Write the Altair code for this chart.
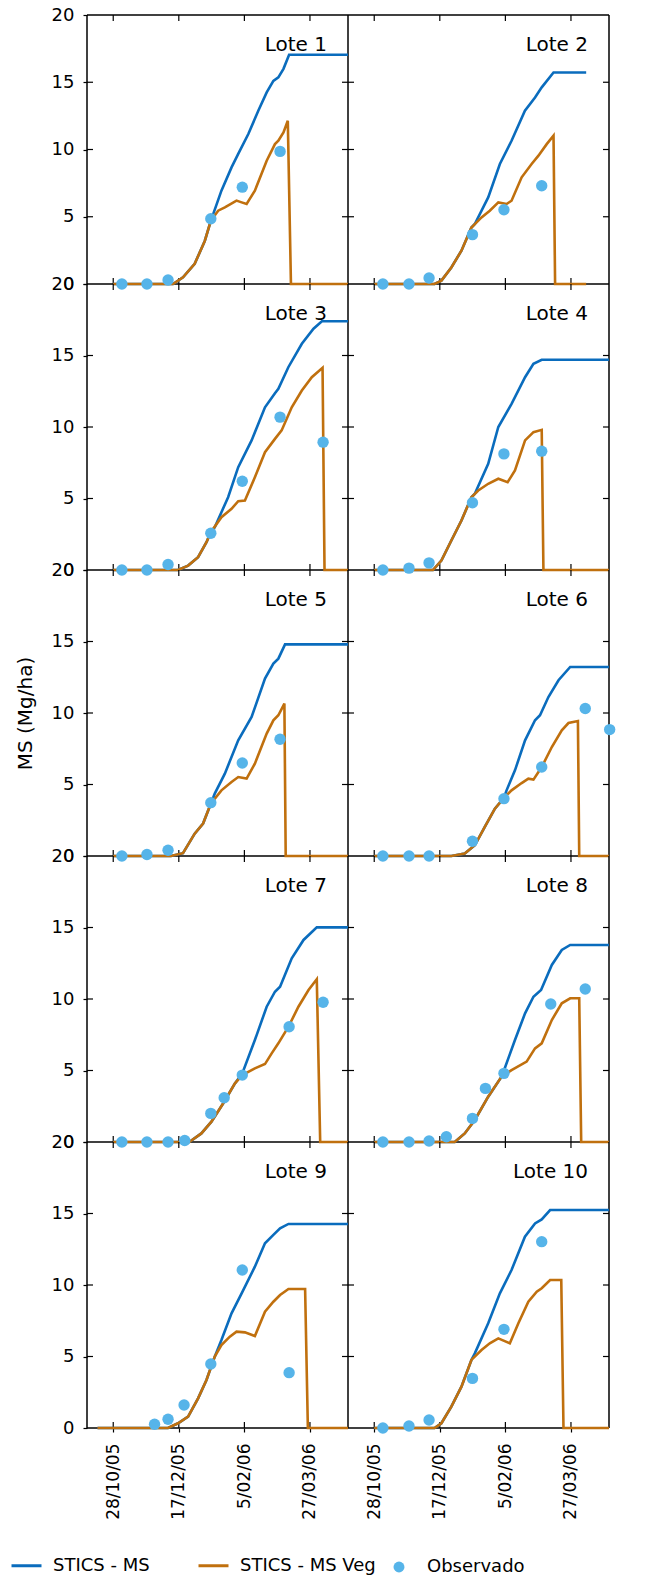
import altair as alt
import pandas as pd

# ---------------- data (days after 2005-10-08, MS in Mg/ha) ----------------
START = "2005-10-08"
XTICK_DATES = ["2005-10-28", "2005-12-17", "2006-02-05", "2006-03-27"]
YTICKS = [0, 5, 10, 15, 20]
YTICKS_INNER = [5, 10, 15]
SERIES = ["STICS - MS", "STICS - MS Veg"]
OBS_LABEL = "Observado"

l1_obs_d = [26.6, 45.7, 61.8, 94.4, 118.4, 147.2]
l1_obs_v = [0, 0, 0.3, 4.85, 7.2, 9.86]
l1_veg_d = [20, 65.6, 73.2, 82.1, 89.8, 94.4, 100, 105.1, 114, 117.9, 121.7, 128, 137, 143.3, 145.9, 149.8, 153.1, 155.5, 199]
l1_veg_v = [0, 0, 0.5, 1.5, 3.2, 4.7, 5.45, 5.7, 6.2, 6.07, 5.95, 6.94, 9.17, 10.4, 10.65, 11.27, 12.14, 0, 0]
l1_ms_d = [20, 65.6, 73.2, 82.1, 89.8, 94.4, 102.5, 110.2, 115.3, 123, 130.6, 137, 142.1, 145.9, 149.8, 154.1, 199]
l1_ms_v = [0, 0, 0.5, 1.5, 3.2, 4.7, 6.94, 8.67, 9.67, 11.15, 12.88, 14.25, 15.1, 15.36, 16.0, 17.05, 17.05]

l2_obs_d = [26.6, 46.5, 61.8, 94.9, 118.9, 147.7]
l2_obs_v = [0, 0, 0.45, 3.67, 5.52, 7.31]
l2_veg_d = [20, 66, 71.2, 78.8, 86.5, 94.1, 101.8, 108.1, 114.6, 120.9, 124.7, 132.4, 140, 145.2, 151.5, 156.7, 157.9, 181.6]
l2_veg_v = [0, 0, 0.25, 1.23, 2.48, 4.2, 4.95, 5.45, 6.07, 5.95, 6.19, 7.93, 8.92, 9.54, 10.4, 11.03, 0, 0]
l2_ms_d = [20, 66, 71.2, 78.8, 86.5, 94.1, 96.7, 106.9, 115.8, 124.7, 134.9, 142.6, 147.7, 156.7, 181.6]
l2_ms_v = [0, 0, 0.25, 1.23, 2.48, 4.2, 4.46, 6.44, 8.92, 10.65, 12.88, 13.87, 14.62, 15.73, 15.73]

l3_obs_d = [26.6, 45.7, 61.8, 94.4, 118.4, 147.2, 180]
l3_obs_v = [0, 0, 0.38, 2.57, 6.21, 10.69, 8.94]
l3_veg_d = [20, 69.4, 77.1, 84.7, 91.1, 94.4, 102.5, 110.2, 115.3, 120.4, 128, 135.7, 143.3, 148.4, 156.1, 163.8, 171.4, 179.6, 181.1, 199]
l3_veg_v = [0, 0, 0.31, 0.9, 1.94, 2.64, 3.69, 4.28, 4.81, 4.86, 6.49, 8.24, 9.17, 9.76, 11.38, 12.55, 13.48, 14.14, 0, 0]
l3_ms_d = [20, 69.4, 77.1, 84.7, 91.1, 94.4, 97.4, 107.6, 115.3, 125.5, 135.7, 143.3, 145.9, 153.5, 163.8, 172.7, 179.1, 199]
l3_ms_v = [0, 0, 0.31, 0.9, 1.94, 2.64, 2.99, 5.09, 7.19, 9.06, 11.38, 12.36, 12.67, 14.18, 15.82, 16.87, 17.4, 17.4]

l4_obs_d = [26.6, 46.5, 61.8, 94.9, 118.9, 147.7]
l4_obs_v = [0, 0.13, 0.5, 4.7, 8.12, 8.31]
l4_veg_d = [20, 64.8, 71.2, 78.8, 86.5, 94.1, 99.3, 106.9, 114.6, 121.7, 127.3, 135, 141.4, 147.7, 149, 199]
l4_veg_v = [0, 0, 0.66, 2.06, 3.46, 5.09, 5.56, 6.03, 6.38, 6.14, 6.96, 9.06, 9.64, 9.8, 0, 0]
l4_ms_d = [20, 64.8, 71.2, 78.8, 86.5, 94.1, 96.7, 106.9, 114.6, 124.7, 135, 141.4, 147.7, 199]
l4_ms_v = [0, 0, 0.66, 2.06, 3.46, 5.09, 5.33, 7.43, 10.0, 11.62, 13.48, 14.42, 14.7, 14.7]

l5_obs_d = [26.6, 45.7, 61.8, 94.4, 118.4, 147.2]
l5_obs_v = [0, 0.1, 0.4, 3.73, 6.5, 8.16]
l5_veg_d = [20, 64, 73.2, 82.1, 88.5, 94.4, 102.5, 110.2, 115.3, 121.7, 128, 137, 142.1, 145.9, 150.5, 151.5, 199]
l5_veg_v = [0, 0, 0.2, 1.56, 2.27, 3.66, 4.59, 5.17, 5.52, 5.41, 6.46, 8.56, 9.49, 9.84, 10.66, 0, 0]
l5_ms_d = [20, 64, 73.2, 82.1, 88.5, 94.4, 97.4, 105.1, 115.3, 125.5, 135.7, 142.1, 145.9, 151, 199]
l5_ms_v = [0, 0, 0.2, 1.56, 2.27, 3.66, 4.36, 5.76, 8.09, 9.72, 12.41, 13.45, 13.8, 14.8, 14.8]

l6_obs_d = [26.6, 46.5, 61.8, 94.9, 118.9, 147.7, 180.9, 199.5]
l6_obs_v = [0, 0, 0, 1.03, 4.01, 6.22, 10.31, 8.84]
l6_veg_d = [20, 78.8, 89, 96.7, 104.3, 112, 118.9, 124.7, 132.4, 137.5, 141.4, 147.7, 155.4, 163, 168.1, 175.3, 176.3, 199]
l6_veg_v = [0, 0, 0.17, 0.75, 2.03, 3.31, 4.07, 4.59, 5.1, 5.41, 5.34, 6.22, 7.62, 8.79, 9.3, 9.44, 0, 0]
l6_ms_d = [20, 78.8, 89, 96.7, 104.3, 112, 118.9, 120.9, 127.3, 135, 142.6, 146.4, 152.8, 160.5, 169.4, 199]
l6_ms_v = [0, 0, 0.17, 0.75, 2.03, 3.31, 4.07, 4.59, 5.99, 8.09, 9.49, 9.84, 11.12, 12.29, 13.22, 13.22]

l7_obs_d = [26.6, 45.7, 61.8, 74.5, 94.4, 104.6, 118.4, 154.1, 180]
l7_obs_v = [0, 0, 0, 0.1, 2.0, 3.09, 4.68, 8.06, 9.77]
l7_veg_d = [20, 78, 87.2, 94.9, 103.9, 112.8, 118.4, 128, 135.7, 140.8, 145.9, 153.6, 161.2, 168.9, 175.2, 177.8, 199]
l7_veg_v = [0, 0, 0.6, 1.42, 2.71, 4.1, 4.68, 5.15, 5.45, 6.2, 6.9, 8.06, 9.46, 10.63, 11.38, 0, 0]
l7_ms_d = [20, 78, 87.2, 94.9, 103.9, 112.8, 118.4, 128, 137, 143.3, 147.2, 156.1, 165.1, 175.2, 199]
l7_ms_v = [0, 0, 0.6, 1.42, 2.71, 4.1, 4.8, 7.13, 9.46, 10.51, 10.86, 12.85, 14.13, 15.01, 15.01]

l8_obs_d = [26.6, 46.5, 61.8, 75, 94.9, 104.8, 118.9, 154.6, 180.9]
l8_obs_v = [0, 0, 0.07, 0.37, 1.65, 3.75, 4.8, 9.65, 10.7]
l8_veg_d = [20, 81.4, 89, 96.7, 106.9, 117.1, 124.7, 136.2, 142.6, 147.7, 155.4, 163, 169.4, 176.3, 177.8, 199]
l8_veg_v = [0, 0, 0.6, 1.54, 3.17, 4.57, 5.03, 5.62, 6.55, 6.9, 8.53, 9.7, 10.05, 10.05, 0, 0]
l8_ms_d = [20, 81.4, 89, 96.7, 106.9, 117.1, 118.9, 127.3, 135, 141.4, 147.2, 155.4, 163, 169.4, 199]
l8_ms_v = [0, 0, 0.6, 1.54, 3.17, 4.57, 5.0, 7.13, 9.0, 10.16, 10.63, 12.38, 13.43, 13.78, 13.78]

l9_obs_d = [51.5, 61.8, 74, 94.4, 118.4, 154.1]
l9_obs_v = [0.26, 0.61, 1.61, 4.48, 11.05, 3.87]
l9_veg_d = [8, 61.8, 69.4, 77.1, 84.7, 91.1, 97.4, 102.5, 108.9, 114, 120.4, 128, 135.7, 142.1, 147.2, 153.6, 166.3, 168.4, 199]
l9_veg_v = [0, 0, 0.33, 0.79, 2.07, 3.36, 4.99, 5.8, 6.39, 6.74, 6.69, 6.43, 8.13, 8.83, 9.3, 9.72, 9.72, 0, 0]
l9_ms_d = [8, 61.8, 69.4, 77.1, 84.7, 91.1, 97.4, 102.5, 110.2, 117.9, 128, 135.7, 142.1, 147.2, 153.6, 199]
l9_ms_v = [0, 0, 0.33, 0.79, 2.07, 3.36, 4.99, 6.15, 8.02, 9.42, 11.28, 12.92, 13.5, 13.97, 14.27, 14.27]

l10_obs_d = [26.6, 46.5, 61.8, 94.9, 118.9, 147.7]
l10_obs_v = [0, 0.14, 0.56, 3.47, 6.9, 13.03]
l10_veg_d = [20, 66, 71.2, 78.8, 86.5, 94.1, 101.8, 108.1, 114.6, 123.4, 129.9, 137.5, 143.9, 147.7, 154.1, 162.6, 164.3, 199]
l10_veg_v = [0, 0, 0.33, 1.49, 2.89, 4.76, 5.45, 5.92, 6.27, 5.92, 7.32, 8.83, 9.53, 9.77, 10.35, 10.35, 0, 0]
l10_ms_d = [20, 66, 71.2, 78.8, 86.5, 94.1, 96.7, 106.9, 115.8, 124.7, 134.9, 142.6, 147.7, 154.1, 199]
l10_ms_v = [0, 0, 0.33, 1.49, 2.89, 4.76, 5.22, 7.32, 9.42, 11.05, 13.38, 14.31, 14.59, 15.24, 15.24]

LOTES = [
    (1, l1_obs_d, l1_obs_v, l1_veg_d, l1_veg_v, l1_ms_d, l1_ms_v),
    (2, l2_obs_d, l2_obs_v, l2_veg_d, l2_veg_v, l2_ms_d, l2_ms_v),
    (3, l3_obs_d, l3_obs_v, l3_veg_d, l3_veg_v, l3_ms_d, l3_ms_v),
    (4, l4_obs_d, l4_obs_v, l4_veg_d, l4_veg_v, l4_ms_d, l4_ms_v),
    (5, l5_obs_d, l5_obs_v, l5_veg_d, l5_veg_v, l5_ms_d, l5_ms_v),
    (6, l6_obs_d, l6_obs_v, l6_veg_d, l6_veg_v, l6_ms_d, l6_ms_v),
    (7, l7_obs_d, l7_obs_v, l7_veg_d, l7_veg_v, l7_ms_d, l7_ms_v),
    (8, l8_obs_d, l8_obs_v, l8_veg_d, l8_veg_v, l8_ms_d, l8_ms_v),
    (9, l9_obs_d, l9_obs_v, l9_veg_d, l9_veg_v, l9_ms_d, l9_ms_v),
    (10, l10_obs_d, l10_obs_v, l10_veg_d, l10_veg_v, l10_ms_d, l10_ms_v),
]

# ---------------- style ----------------
BLUE = "#0a6cbd"
BROWN = "#c0700e"
DOT = "#56b4e9"
FONT = "DejaVu Sans"
W = 261
H_FIRST = 269
H = 286

start = pd.Timestamp(START)


def to_dates(days):
    return [start + pd.Timedelta(days=float(d)) for d in days]


xscale = alt.Scale(domain=[alt.DateTime(year=2005, month=10, date=8),
                           alt.DateTime(year=2006, month=4, date=25)])
yscale = alt.Scale(domain=[0, 20], nice=False, zero=True)
xtick_dt = [alt.DateTime(year=int(s[:4]), month=int(s[5:7]), date=int(s[8:])) for s in XTICK_DATES]

color_scale = alt.Scale(domain=SERIES, range=[BLUE, BROWN])
fill_scale = alt.Scale(domain=[OBS_LABEL], range=[DOT])

color_legend = alt.Legend(title=None, orient="none", legendX=-77, legendY=1534,
                          direction="horizontal", symbolType="stroke", symbolStrokeWidth=3,
                          symbolSize=900, labelFontSize=18, labelFont=FONT, labelColor="black",
                          labelOffset=10, columnPadding=42, padding=0)
fill_legend = alt.Legend(title=None, orient="none", legendX=303, legendY=1543,
                         symbolType="circle", symbolSize=120, labelFontSize=18, labelFont=FONT,
                         labelColor="black", labelOffset=19, padding=0, symbolStrokeWidth=0)


def panel(n, row, col, obs_d, obs_v, veg_d, veg_v, ms_d, ms_v):
    h = H_FIRST if row == 0 else H
    show_x = row == 4
    show_y = col == 0
    if show_x:
        x_axis = alt.Axis(values=xtick_dt, format="%-d/%m/%y", labelAngle=-90, tickSize=4,
                          labelPadding=11, domain=False, grid=False, title=None,
                          labelFontSize=17, labelFont=FONT, labelFlush=False,
                          labelColor="black", tickColor="black", tickWidth=1.2)
    else:
        x_axis = None
    if show_y:
        y_axis = alt.Axis(values=YTICKS, tickSize=4, labelPadding=9, domain=False, grid=False,
                          title="MS (Mg/ha)" if row == 2 else None, titlePadding=16,
                          labelFontSize=18, labelFont=FONT, titleFont=FONT, titleFontSize=20,
                          titleFontWeight="normal", labelColor="black", titleColor="black",
                          tickColor="black", tickWidth=1.2, labelOverlap=False)
    else:
        y_axis = None

    X = lambda f: alt.X(f, scale=xscale, axis=x_axis)
    Y = lambda f: alt.Y(f, scale=yscale, axis=y_axis)

    ms_df = pd.DataFrame({"date": to_dates(ms_d), "value": ms_v, "series": SERIES[0]})
    veg_df = pd.DataFrame({"date": to_dates(veg_d), "value": veg_v, "series": SERIES[1]})
    obs_df = pd.DataFrame({"date": to_dates(obs_d), "value": obs_v, "kind": OBS_LABEL})
    yt_df = pd.DataFrame({"v": YTICKS_INNER})
    xt_df = pd.DataFrame({"d": [pd.Timestamp(s) for s in XTICK_DATES]})
    lab_df = pd.DataFrame({"label": [f"Lote {n}"]})

    # panel frame edges, drawn under the curves; each panel draws its bottom and
    # right edge (plus top / left on the outer border) so no neighbour covers a curve
    edge = dict(color="black", strokeWidth=1.5)
    layers = [
        alt.Chart(lab_df).mark_rule(**edge).encode(x=alt.value(0), x2=alt.value(W), y=alt.value(h)),
        alt.Chart(lab_df).mark_rule(**edge).encode(x=alt.value(W), y=alt.value(0), y2=alt.value(h)),
    ]
    if row == 0:
        layers.append(alt.Chart(lab_df).mark_rule(**edge).encode(
            x=alt.value(0), x2=alt.value(W), y=alt.value(0)))
    if col == 0:
        layers.append(alt.Chart(lab_df).mark_rule(**edge).encode(
            x=alt.value(0), y=alt.value(0), y2=alt.value(h)))

    color = alt.Color("series:N", scale=color_scale, legend=color_legend)
    ms = alt.Chart(ms_df).mark_line(strokeWidth=2.6).encode(x=X("date:T"), y=Y("value:Q"), color=color)
    veg = alt.Chart(veg_df).mark_line(strokeWidth=2.6).encode(x=X("date:T"), y=Y("value:Q"), color=color)
    pts = alt.Chart(obs_df).mark_circle(size=130, opacity=1).encode(
        x=X("date:T"), y=Y("value:Q"),
        fill=alt.Fill("kind:N", scale=fill_scale, legend=fill_legend))

    rule = dict(color="black", strokeWidth=1.2)
    yl = alt.Chart(yt_df).mark_rule(**rule).encode(y=Y("v:Q"), x=alt.value(0), x2=alt.value(6))
    yr = alt.Chart(yt_df).mark_rule(**rule).encode(y=Y("v:Q"), x=alt.value(W - 6), x2=alt.value(W))
    xb = alt.Chart(xt_df).mark_rule(**rule).encode(x=X("d:T"), y=alt.value(h - 6), y2=alt.value(h))
    xtp = alt.Chart(xt_df).mark_rule(**rule).encode(x=X("d:T"), y=alt.value(0), y2=alt.value(6))
    lab = alt.Chart(lab_df).mark_text(align="right", baseline="alphabetic", fontSize=20,
                                      font=FONT, color="black").encode(
        x=alt.value(W - 21), y=alt.value(36), text="label:N")

    layers += [yl, yr, xb, xtp, ms, veg, pts, lab]
    return alt.layer(*layers).properties(width=W, height=h)


panels = []
for i, lote in enumerate(LOTES):
    panels.append(panel(lote[0], i // 2, i % 2, *lote[1:]))

chart = alt.concat(*panels, columns=2, spacing=0, bounds="flush", align="each").properties(
    padding={"left": 10, "top": 5, "right": 10, "bottom": 2}
).configure(
    font=FONT, view=alt.ViewConfig(stroke="transparent")
)

chart.save("out.html", embed_options={"renderer": "svg", "actions": False})
